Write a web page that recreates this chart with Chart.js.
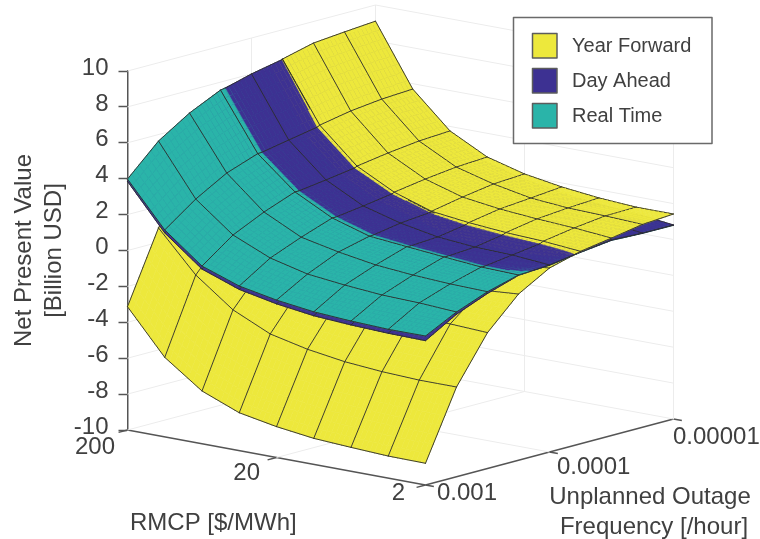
<!DOCTYPE html>
<html><head><meta charset="utf-8">
<style>html,body{margin:0;padding:0;background:#fff}canvas{display:block}</style>
<script src="https://cdn.jsdelivr.net/npm/chart.js@4"></script>
</head><body><canvas id="c" width="760" height="539"></canvas>
<script>
// Surface values (Billion USD). Rows: frequency 0.001 -> 0.00001; columns: RMCP 200 -> 2
const seriesNames = ['Year Forward', 'Day Ahead', 'Real Time'];
const seriesColors = ['#EDE83C', '#3D3192', '#2AB4A9'];
const npvTicks = [-10, 10];
const rmcpLabels = ['200', '20', '2'];
const freqLabels = ['0.001', '0.0001', '0.00001'];

const yearForward = [
  [-3.13,-5.57,-7.06,-7.89,-8.28,-8.55,-8.67,-8.77,-8.79],
  [0.8,-1.44,-3.0,-3.96,-4.43,-4.74,-4.91,-5.0,-5.0],
  [3.6,0.5,-1.0,-1.8,-2.1,-2.25,-2.3,-2.33,-2.43],
  [5.6,2.3,0.5,-0.4,-0.75,-0.85,-0.9,-0.9,-0.74],
  [7.3,4.1,2.2,1.2,0.6,0.35,0.2,0.05,0.25],
  [8.37,5.07,3.17,2.1,1.42,1.17,1.0,0.9,0.72],
  [8.8,5.4,3.44,2.37,1.75,1.47,1.3,1.18,1.0],
  [8.96,5.6,3.65,2.58,2.02,1.62,1.45,1.39,1.3],
  [9.1,5.7,3.75,2.68,2.12,1.78,1.55,1.42,1.42]
];
const dayAhead = [
  [3.85,1.36,-0.27,-1.02,-1.44,-1.72,-1.85,-1.93,-1.96],
  [5.52,2.67,1.05,0.15,-0.36,-0.59,-0.76,-0.82,-0.95],
  [6.65,3.7,1.92,0.9,0.46,0.12,-0.06,-0.17,-0.25],
  [7.53,4.37,2.62,1.55,0.92,0.72,0.53,0.35,0.3],
  [8.0,4.7,2.86,1.79,1.22,0.83,0.65,0.59,0.42],
  [8.35,5.02,3.12,2.06,1.38,1.12,0.95,0.83,0.68],
  [8.6,5.2,3.25,2.2,1.55,1.25,1.1,1.0,0.89],
  [8.75,5.35,3.4,2.35,1.7,1.35,1.15,1.05,0.82],
  [8.9,5.45,3.5,2.4,1.8,1.45,1.2,1.05,0.81]
];
const realTime = [
  [3.98,1.53,-0.1,-0.83,-1.23,-1.5,-1.63,-1.71,-1.7],
  [5.64,2.79,1.17,0.27,-0.24,-0.47,-0.64,-0.7,-0.82],
  [6.74,3.78,1.99,0.97,0.53,0.19,0.01,-0.1,-0.15],
  [7.56,4.4,2.65,1.58,0.95,0.75,0.56,0.38,0.32],
  [7.85,4.5,2.65,1.6,1.0,0.6,0.45,0.35,0.4],
  [8.1,4.75,2.85,1.8,1.15,0.8,0.65,0.55,0.66],
  [8.3,4.9,3.0,1.95,1.3,0.95,0.8,0.7,0.87],
  [8.45,5.05,3.1,2.05,1.4,1.05,0.9,0.8,0.8],
  [8.6,5.15,3.2,2.15,1.5,1.15,1.0,0.9,0.79]
];
const surfaces = [yearForward, dayAhead, realTime];

// Orthographic view: u runs along RMCP, v along frequency
const PX_PER_NPV = 17.95;
function proj(u, v, z) {
  return { x: 298 * u + 248 * v, y: z + (-55 * u + 66 * v) / PX_PER_NPV };
}
function surfacePoints(rows) {
  const n = rows.length - 1, m = rows[0].length - 1, pts = [];
  rows.forEach((row, j) => row.forEach((z, i) => pts.push(proj(i / m, j / n, z))));
  return pts;
}
function seg(points, color, width) {
  return { data: points.map(p => proj(p[0], p[1], p[2])), showLine: true, fill: false,
    borderColor: color, borderWidth: width, pointRadius: 0, clip: false };
}
const GRID = '#ececec', AXIS = '#555555';
const lineSets = [];
for (let z = -10; z <= 10; z += 2) {
  lineSets.push(seg([[0,0,z],[0,1,z],[1,1,z]], GRID, 1));
}
[[0,0.5],[0,1],[0.5,1],[1,1]].forEach(p => lineSets.push(seg([[p[0],p[1],-10],[p[0],p[1],10]], GRID, 1)));
lineSets.push(seg([[0,0.5,-10],[1,0.5,-10]], GRID, 1));
lineSets.push(seg([[0.5,0,-10],[0.5,1,-10]], GRID, 1));
lineSets.push(seg([[0,0,-10],[1,0,-10]], AXIS, 1.5));
lineSets.push(seg([[1,0,-10],[1,1,-10]], AXIS, 1.5));
rmcpLabels.forEach((_, k) => { const u = k / 2; lineSets.push(seg([[u,0,-10],[u,-0.036,-10]], AXIS, 1.5)); });
freqLabels.forEach((_, k) => { const v = k / 2; lineSets.push(seg([[1,v,-10],[1.028,v,-10]], AXIS, 1.5)); });

const TEXT = '#404040', FONT = '"Liberation Sans", Arial, sans-serif';
const surfacePlugin = {
  id: 'surfacePlugin',
  afterDatasetsDraw(chart) {
    const ctx = chart.ctx, N = 8, m = 8, n = 8;
    const metas = surfaces.map((_, k) => chart.getDatasetMeta(k).data);
    const at = (d, i, j, s, t) => {
      const a = d[j * (m + 1) + i], b = d[j * (m + 1) + i + 1], c = d[(j + 1) * (m + 1) + i], e = d[(j + 1) * (m + 1) + i + 1];
      return { x: (1-s)*(1-t)*a.x + s*(1-t)*b.x + (1-s)*t*c.x + s*t*e.x,
               y: (1-s)*(1-t)*a.y + s*(1-t)*b.y + (1-s)*t*c.y + s*t*e.y };
    };
    // Keep the part of a (s,t) polygon where surface A lies above surface B
    const clipAbove = (poly, A, B, i, j) => {
      const f = p => at(B, i, j, p.s, p.t).y - at(A, i, j, p.s, p.t).y;
      const out = [];
      poly.forEach((p, k) => {
        const q = poly[(k + 1) % poly.length], fp = f(p), fq = f(q);
        if (fp >= 0) out.push(p);
        if ((fp >= 0) !== (fq >= 0)) {
          const r = fp / (fp - fq);
          out.push({ s: p.s + r * (q.s - p.s), t: p.t + r * (q.t - p.t) });
        }
      });
      return out;
    };
    ctx.save();
    ctx.lineJoin = 'round';
    const line = (p, q) => {
      ctx.strokeStyle = '#2b2b2b'; ctx.lineWidth = 0.9; ctx.lineCap = 'round';
      ctx.beginPath(); ctx.moveTo(p.x, p.y); ctx.lineTo(q.x, q.y); ctx.stroke();
    };
    for (let i = 0; i < m; i++) for (let si = 0; si < N; si++)
      for (let j = n - 1; j >= 0; j--) for (let sj = N - 1; sj >= 0; sj--) {
        const s0 = si / N, s1 = (si + 1) / N, t0 = sj / N, t1 = (sj + 1) / N;
        const order = [0, 1, 2].map(k => ({ k, y: at(metas[k], i, j, (s0 + s1) / 2, (t0 + t1) / 2).y }))
          .sort((a, b) => b.y - a.y);
        order.forEach((o, rank) => {
          const d = metas[o.k];
          let poly = [{ s: s0, t: t0 }, { s: s1, t: t0 }, { s: s1, t: t1 }, { s: s0, t: t1 }];
          for (let r = 0; r < rank; r++) poly = clipAbove(poly, d, metas[order[r].k], i, j);
          if (poly.length >= 3) {
            ctx.fillStyle = ctx.strokeStyle = seriesColors[o.k];
            ctx.lineWidth = 0.6; ctx.lineCap = 'butt';
            ctx.beginPath();
            poly.forEach((p, k) => { const c = at(d, i, j, p.s, p.t); k ? ctx.lineTo(c.x, c.y) : ctx.moveTo(c.x, c.y); });
            ctx.closePath(); ctx.fill(); ctx.stroke();
          }
          const p00 = at(d, i, j, s0, t0), p10 = at(d, i, j, s1, t0), p11 = at(d, i, j, s1, t1), p01 = at(d, i, j, s0, t1);
          if (si === 0) line(p00, p01);
          if (sj === N - 1) line(p01, p11);
          if (i === m - 1 && si === N - 1) line(p10, p11);
          if (j === 0 && sj === 0) line(p00, p10);
        });
      }
    // Tick labels and axis titles
    ctx.fillStyle = TEXT; ctx.textBaseline = 'middle';
    ctx.font = '24px ' + FONT;
    ctx.textAlign = 'right';
    ctx.fillText(rmcpLabels[0], 115, 447);
    ctx.fillText(rmcpLabels[1], 260, 473);
    ctx.fillText(rmcpLabels[2], 405, 493);
    ctx.textAlign = 'left';
    ctx.fillText(freqLabels[0], 437, 493);
    ctx.fillText(freqLabels[1], 557, 467);
    ctx.fillText(freqLabels[2], 673, 437);
    ctx.fillText('RMCP [$/MWh]', 130, 523);
    ctx.textAlign = 'center';
    ctx.fillText('Unplanned Outage', 650, 497);
    ctx.fillText('Frequency [/hour]', 654, 527);
    // Legend
    ctx.fillStyle = '#ffffff'; ctx.fillRect(513.5, 17.5, 198.5, 126);
    ctx.strokeStyle = '#6a6a6a'; ctx.lineWidth = 1.5; ctx.strokeRect(513.5, 17.5, 198.5, 126);
    seriesNames.forEach((name, k) => {
      const y = 33.5 + k * 35;
      ctx.fillStyle = seriesColors[k]; ctx.fillRect(532.5, y, 24.5, 24.5);
      ctx.strokeStyle = '#5c5c5c'; ctx.lineWidth = 1.5; ctx.strokeRect(532.5, y, 24.5, 24.5);
      ctx.fillStyle = TEXT; ctx.font = '20px ' + FONT; ctx.textAlign = 'left';
      ctx.fillText(name, 572, y + 12.5);
    });
    ctx.restore();
  }
};

new Chart(document.getElementById('c'), {
  type: 'scatter',
  data: { datasets: surfaces.map((rows, k) => ({
      label: seriesNames[k], data: surfacePoints(rows), pointRadius: 0, showLine: false, clip: false,
      backgroundColor: seriesColors[k], borderColor: seriesColors[k] }))
    .concat(lineSets) },
  options: {
    responsive: false, animation: false,
    layout: { padding: { left: 0, top: 71, right: 86.5, bottom: 109 } },
    plugins: { legend: { display: false }, tooltip: { enabled: false } },
    scales: {
      x: { type: 'linear', display: false, min: 0, max: 546 },
      y: { type: 'linear', min: npvTicks[0], max: npvTicks[1],
        afterFit(s) { s.width = 127.5; },
        border: { display: true, color: AXIS, width: 1.5 },
        grid: { drawOnChartArea: false, drawTicks: true, tickLength: 9, tickColor: AXIS, tickWidth: 1.5 },
        ticks: { stepSize: 2, autoSkip: false, padding: 10, labelOffset: -3, color: TEXT, font: { size: 24, family: FONT } },
        title: { display: true, text: ['Net Present Value', '[Billion USD]'], color: TEXT,
          font: { size: 24, family: FONT, lineHeight: 1.25 }, padding: { top: 9, bottom: 0 } }
      }
    }
  },
  plugins: [surfacePlugin]
});
</script></body></html>
